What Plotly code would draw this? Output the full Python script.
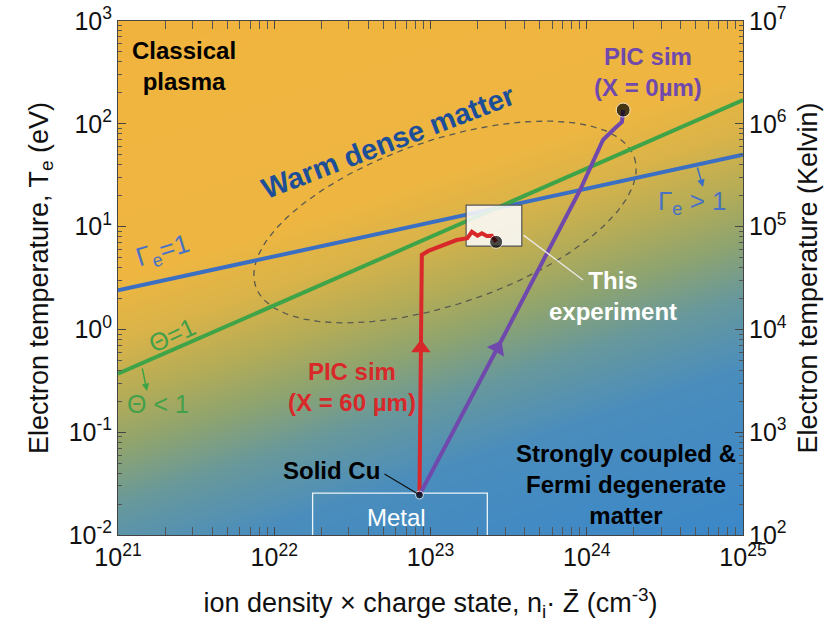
import numpy as np
import plotly.graph_objects as go

# ---------------- data ----------------
x_range_log = [21, 25]          # ion density x charge state (cm^-3)
y_range_log = [-2, 3]           # electron temperature (eV)
y2_range_log = [2, 7]           # electron temperature (Kelvin)
x_tick_exp = [21, 22, 23, 24, 25]
y_tick_exp = [-2, -1, 0, 1, 2, 3]
y2_tick_exp = [2, 3, 4, 5, 6, 7]

# Gamma_e = 1 and Theta = 1 boundaries (end points)
gamma_n = [1e21, 1e25]
gamma_T = [2.4, 50.0]
theta_n = [1e21, 1e25]
theta_T = [0.37, 170.0]

# PIC simulation paths
red_n = [8.5e22, 8.8e22, 9.7e22, 1.47e23, 1.72e23, 1.84e23, 2.0e23, 2.13e23, 2.29e23, 2.47e23, 2.63e23]
red_T = [0.0245, 5.3, 5.8, 7.4, 7.7, 8.9, 8.15, 8.6, 8.1, 8.15, 7.1]
purple_n = [8.5e22, 2.79e23, 9.06e23, 1.27e24, 1.52e24, 1.68e24, 1.71e24]
purple_T = [0.0245, 0.738, 22.7, 69.5, 91.0, 104.0, 136.0]
arrow_T = 0.66  # temperature where direction arrows sit

# key points
solid_cu = (8.5e22, 0.0245)

# regions
exp_box_n = [1.69e23, 3.84e23]
exp_box_T = [6.47, 16.2]
metal_box_n = [1.76e22, 2.31e23]
metal_box_T = [0.01, 0.0255]

# warm-dense-matter ellipse (in log10 space): centre, conjugate semi-axes
wdm_center = (23.093, 1.045)
wdm_axis_a = (1.212, 0.626)
wdm_axis_b = (0.169, -0.756)

# ---------------- helpers ----------------
L, R, T, B = 118, 89, 21, 87
W, H = 832, 622
PW, PH = W - L - R, H - T - B


def px(xp):
    return (xp - L) / PW


def py(yp):
    return (H - B - yp) / PH


def interp_path(ns, Ts, t):
    lt = np.log10(Ts)
    ln = np.log10(ns)
    lt0 = np.log10(t)
    for i in range(len(lt) - 1):
        if (lt[i] - lt0) * (lt[i + 1] - lt0) <= 0:
            f = (lt0 - lt[i]) / (lt[i + 1] - lt[i])
            return float(10.0 ** (ln[i] + f * (ln[i + 1] - ln[i])))
    return float(ns[0])


def pow_labels(exps):
    return [10.0 ** e for e in exps], ["10<sup>%s</sup>" % e for e in exps]


FONT = "Liberation Sans, Arial, Helvetica, sans-serif"
fig = go.Figure()

# background gradient (corner values of a linear ramp, bilinear smoothing)
fig.add_trace(go.Heatmap(
    x=[10.0 ** x_range_log[0], 10.0 ** x_range_log[1]],
    y=[10.0 ** y_range_log[0], 10.0 ** y_range_log[1]],
    z=[[0.71, 1.0], [0.0, 0.289]],
    zsmooth="best", showscale=False, hoverinfo="skip",
    zmin=0, zmax=1,
    colorscale=[[0, "#f0b43e"], [0.36, "#eeb641"], [0.44, "#d9b349"],
                [0.52, "#b4ac57"], [0.59, "#8fa46e"], [0.67, "#67989c"],
                [0.77, "#4a8dbd"], [1.0, "#3b87c8"]],
))

# ellipse
phi = np.linspace(0, 2 * np.pi, 241)
el_x = 10.0 ** (wdm_center[0] + wdm_axis_a[0] * np.cos(phi) + wdm_axis_b[0] * np.sin(phi))
el_y = 10.0 ** (wdm_center[1] + wdm_axis_a[1] * np.cos(phi) + wdm_axis_b[1] * np.sin(phi))
fig.add_trace(go.Scatter(x=el_x, y=el_y, mode="lines",
                         line=dict(color="#5a5a50", width=1.3, dash="6px,5px"),
                         hoverinfo="skip", showlegend=False))

# boundaries
fig.add_trace(go.Scatter(x=gamma_n, y=gamma_T, mode="lines",
                         line=dict(color="#3b6fc4", width=4), showlegend=False))
fig.add_trace(go.Scatter(x=theta_n, y=theta_T, mode="lines",
                         line=dict(color="#3fa448", width=4), showlegend=False))

# metal box
fig.add_trace(go.Scatter(
    x=[metal_box_n[0], metal_box_n[0], metal_box_n[1], metal_box_n[1]],
    y=[metal_box_T[0], metal_box_T[1], metal_box_T[1], metal_box_T[0]],
    mode="lines", line=dict(color="rgba(255,255,255,0.9)", width=1.3),
    showlegend=False, hoverinfo="skip"))

# experiment box
fig.add_trace(go.Scatter(
    x=[exp_box_n[0], exp_box_n[1], exp_box_n[1], exp_box_n[0], exp_box_n[0]],
    y=[exp_box_T[0], exp_box_T[0], exp_box_T[1], exp_box_T[1], exp_box_T[0]],
    mode="lines", fill="toself", fillcolor="rgba(250,250,250,0.88)",
    line=dict(color="#555555", width=1.2), showlegend=False, hoverinfo="skip"))

# PIC paths
fig.add_trace(go.Scatter(x=red_n, y=red_T, mode="lines",
                         line=dict(color="#d8282a", width=4), showlegend=False))
fig.add_trace(go.Scatter(x=purple_n, y=purple_T, mode="lines",
                         line=dict(color="#7049ad", width=4), showlegend=False))

# direction arrows
fig.add_trace(go.Scatter(x=[interp_path(red_n, red_T, arrow_T)], y=[arrow_T], mode="markers",
                         marker=dict(symbol="triangle-up", size=17, color="#d8282a"),
                         showlegend=False))
fig.add_trace(go.Scatter(x=[interp_path(purple_n, purple_T, arrow_T)], y=[arrow_T], mode="markers",
                         marker=dict(symbol="triangle-up", size=17, color="#7049ad", angle=29),
                         showlegend=False))

# points
fig.add_trace(go.Scatter(x=[solid_cu[0], red_n[-1], purple_n[-1]],
                         y=[solid_cu[1], red_T[-1], purple_T[-1]], mode="markers",
                         marker=dict(color="black", size=[8, 13, 14]), showlegend=False))

# kelvin axis anchor
fig.add_trace(go.Scatter(x=[], y=[], yaxis="y2", showlegend=False))


def ann(text, x, y, size=24, color="black", angle=0, **kw):
    fig.add_annotation(text=text, x=px(x), y=py(y), xref="paper", yref="paper",
                       xanchor="center", yanchor="middle",
                       showarrow=False, textangle=angle,
                       font=dict(family=FONT, size=size, color=color), **kw)


ann("<b>Classical</b><br><b>plasma</b>", 184, 66, size=24)
ann("<b>Warm dense matter</b>", 388, 142, size=29, color="#1d4f98", angle=-21)
ann("Γ<sub>e</sub>=1", 163, 252, size=26, color="#4a72c4", angle=-17)
ann("Γ<sub>e</sub> > 1", 692, 203, size=26, color="#4a72c4")
ann("Θ=1", 172, 335, size=25, color="#43a04a", angle=-25)
ann("Θ < 1", 158, 404, size=25, color="#43a04a")
ann("<b>PIC sim</b><br><b>(X = 60 µm)</b>", 352, 387, size=24, color="#d8282a")
ann("<b>PIC sim</b><br><b>(X = 0µm)</b>", 648, 72, size=24, color="#7049ad")
ann("<b>This</b><br><b>experiment</b>", 613, 296, size=24, color="white")
ann("<b>Strongly coupled &</b><br><b>Fermi degenerate</b><br><b>matter</b>", 626, 484, size=24)
ann("<b>Solid Cu</b>", 331, 470, size=24)
ann("Metal", 396, 517, size=24, color="white")


def leader(x0, y0, x1, y1, color, head=0, width=1.2):
    fig.add_annotation(x=px(x1), y=py(y1), xref="paper", yref="paper",
                       ax=x0 - x1, ay=y0 - y1, axref="pixel", ayref="pixel",
                       text="", showarrow=True, arrowhead=head, arrowsize=1,
                       arrowwidth=width, arrowcolor=color)


leader(383, 473, 418, 494, "#111111")
leader(522, 234, 583, 280, "rgba(235,235,235,0.95)", width=1.4)
leader(697, 166, 703, 187, "#3b6fc4", head=2, width=1.5)
leader(142, 367, 147, 391, "#3fa448", head=2, width=1.5)

axis_common = dict(type="log", showgrid=False, automargin=False,
                   ticks="inside", ticklen=8, tickwidth=1, tickcolor="#444",
                   showline=True, linecolor="#444", linewidth=1, zeroline=False,
                   tickfont=dict(family=FONT, size=25, color="#111"),
                   minor=dict(ticks="inside", ticklen=4, tickwidth=1, tickcolor="#555", dtick="D1"))

xtv, xtt = pow_labels(x_tick_exp)
ytv, ytt = pow_labels(y_tick_exp)
y2tv, y2tt = pow_labels(y2_tick_exp)

fig.update_layout(
    width=W, height=H, margin=dict(l=L, r=R, t=T, b=B),
    paper_bgcolor="white", plot_bgcolor="white", showlegend=False,
    xaxis=dict(axis_common, range=x_range_log, mirror="allticks",
               tickvals=xtv, ticktext=xtt,
               title=dict(text="ion density × charge state, n<sub>i</sub>· Z̄ (cm<sup>-3</sup>)",
                          font=dict(family=FONT, size=27, color="#111"), standoff=23)),
    yaxis=dict(axis_common, range=y_range_log, mirror="allticks",
               tickvals=ytv, ticktext=ytt,
               title=dict(text="Electron temperature, T<sub>e</sub> (eV)",
                          font=dict(family=FONT, size=27, color="#111"), standoff=12)),
    yaxis2=dict(axis_common, range=y2_range_log, overlaying="y", side="right",
                tickvals=y2tv, ticktext=y2tt,
                title=dict(text="Electron temperature (Kelvin)",
                           font=dict(family=FONT, size=27, color="#111"), standoff=12)),
)

fig.write_html("out.html", config={"displayModeBar": False},
               post_script="document.body.style.margin='0';")
